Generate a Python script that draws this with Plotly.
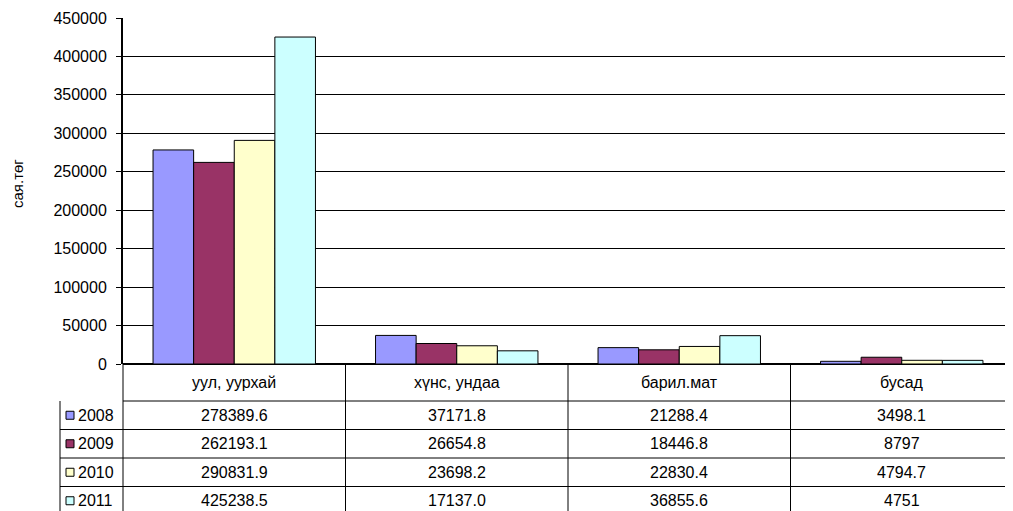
import plotly.graph_objects as go

# categories and series (values as printed in the data table)
categories = ["уул, уурхай", "хүнс, ундаа", "барил.мат", "бусад"]
years = ["2008", "2009", "2010", "2011"]
v2008 = ["278389.6", "37171.8", "21288.4", "3498.1"]
v2009 = ["262193.1", "26654.8", "18446.8", "8797"]
v2010 = ["290831.9", "23698.2", "22830.4", "4794.7"]
v2011 = ["425238.5", "17137.0", "36855.6", "4751"]
series = [v2008, v2009, v2010, v2011]
colors = ["#9999FF", "#993366", "#FFFFCC", "#CCFFFF"]

# page body has an 8px margin; the figure gets squeezed to the body width
OFF = 8
W, H = 1013 - 2 * OFF, 511 - OFF
L = 123 - OFF
T = 18 - OFF
AXIS = 364 - OFF          # zero line, figure coords
B = H - AXIS
R = 0
plot_h = H - T - B
plot_w = W - L - R
CAT_W = 222.5             # pixel width of one category in the reference

def py(p):
    # page pixel y -> paper y
    return (AXIS - (p - OFF)) / plot_h

def pxx(p):
    # page pixel x -> paper x
    return ((p - OFF) - L) / plot_w

FONT = "Liberation Sans, Arial, sans-serif"
FS = 16

fig = go.Figure()
xs = list(range(len(categories)))
for name, vals, c in zip(years, series, colors):
    fig.add_trace(go.Bar(
        x=xs, y=[float(v) for v in vals], name=name,
        marker=dict(color=c, line=dict(color="black", width=1)),
        showlegend=False,
    ))

shapes = []
annotations = []

# table geometry (page pixels)
axis_y = 364
header_bot = 401
row_h = 28.5
left_x = 60
rows_y = [header_bot + i * row_h for i in range(len(years) + 1)]

line = dict(color="black", width=1)
shapes.append(dict(type="line", xref="paper", yref="paper", x0=0, x1=1,
                   y0=py(header_bot), y1=py(header_bot), line=line))
for yy in rows_y[1:]:
    shapes.append(dict(type="line", xref="paper", yref="paper", x0=pxx(left_x), x1=1,
                       y0=py(yy), y1=py(yy), line=line))
shapes.append(dict(type="line", xref="paper", yref="paper", x0=pxx(left_x), x1=pxx(left_x),
                   y0=py(header_bot), y1=py(rows_y[-1]), line=line))
shapes.append(dict(type="line", xref="paper", yref="paper", x0=0, x1=0,
                   y0=0, y1=py(rows_y[-1]), line=line))
for i in range(1, len(categories)):
    shapes.append(dict(type="line", xref="x", yref="paper", x0=i - 0.5, x1=i - 0.5,
                       y0=0, y1=py(rows_y[-1]), line=line))

txt = dict(size=FS, color="black", family=FONT)

# header labels
for i, cat in enumerate(categories):
    annotations.append(dict(x=i, y=py((axis_y + header_bot) / 2), xref="x", yref="paper",
                            xanchor="center", yanchor="middle",
                            text=cat, showarrow=False, font=txt))

# data rows with legend keys
for r, (name, vals, c) in enumerate(zip(years, series, colors)):
    cy = rows_y[r] + row_h / 2
    shapes.append(dict(type="rect", xref="paper", yref="paper",
                       x0=pxx(66), x1=pxx(74), y0=py(cy + 4), y1=py(cy - 4),
                       fillcolor=c, line=dict(color="black", width=1)))
    annotations.append(dict(x=pxx(76), y=py(cy), xref="paper", yref="paper",
                            xanchor="left", yanchor="middle",
                            text=name, showarrow=False, font=txt))
    for i, v in enumerate(vals):
        annotations.append(dict(x=i, y=py(cy), xref="x", yref="paper",
                                xanchor="center", yanchor="middle",
                                text=v, showarrow=False, font=txt))

# y axis title
annotations.append(dict(x=pxx(17), y=py(184), xref="paper", yref="paper", text="сая.төг",
                        xanchor="center", yanchor="middle",
                        textangle=-90, showarrow=False, font=dict(size=15, color="black", family=FONT)))

fig.update_layout(
    width=W, height=H,
    margin=dict(l=L, r=R, t=T, b=B, pad=0, autoexpand=False),
    paper_bgcolor="white", plot_bgcolor="white",
    barmode="group", bargap=0.27, bargroupgap=0,
    font=dict(family=FONT, size=FS, color="black"),
    shapes=shapes, annotations=annotations,
    xaxis=dict(range=[-0.5, -0.5 + plot_w / CAT_W], showticklabels=False, showgrid=False,
               zeroline=False, showline=False, ticks=""),
    yaxis=dict(range=[0, 450000], dtick=50000, tickformat="d", showgrid=True,
               gridcolor="black", gridwidth=1, zeroline=True, zerolinecolor="black",
               zerolinewidth=2, showline=True, linecolor="black", linewidth=2,
               ticks="outside", ticklen=5, tickcolor="black", ticklabelstandoff=6,
               tickfont=txt),
)

fig.write_html("out.html")
